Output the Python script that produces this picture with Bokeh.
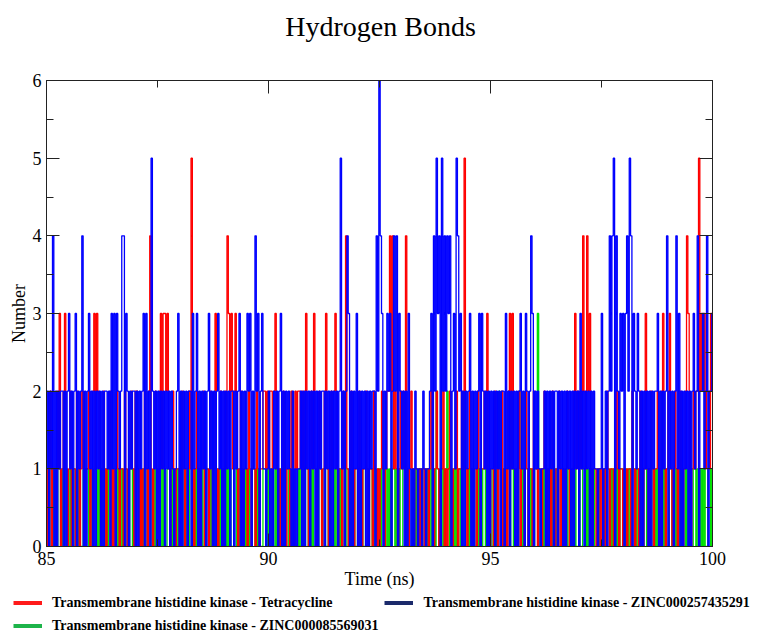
import numpy as np
from bokeh.plotting import figure
from bokeh.layouts import column
from bokeh.models import Range1d, LinearAxis, FixedTicker, Legend, LegendItem, Label
from bokeh.embed import file_html
from bokeh.resources import INLINE

TITLE = "Hydrogen Bonds"
X_LABEL = "Time (ns)"
Y_LABEL = "Number"
T_START = 85.0
T_STEP = 0.03
X_TICKS = [85, 90, 95, 100]
X_MINOR = [87.5, 92.5, 97.5]
Y_TICKS = [0, 1, 2, 3, 4, 5, 6]
Y_MINOR = [0.5, 1.5, 2.5, 3.5, 4.5, 5.5]
NAMES = ["Transmembrane histidine kinase - Tetracycline",
         "Transmembrane histidine kinase - ZINC000085569031",
         "Transmembrane histidine kinase - ZINC000257435291"]

RED = [
    1,0,1,2,0,1,1,0,2,1,3,0,1,2,3,1,0,1,2,0,1,1,0,2,1,
    0,1,2,1,0,1,1,2,0,1,2,3,1,3,2,1,0,1,2,1,0,1,1,2,0,
    1,0,1,2,1,0,1,1,0,2,1,0,1,1,2,1,0,2,2,1,0,1,0,1,2,
    1,0,2,4,1,0,1,2,1,0,2,3,1,3,3,2,3,1,0,1,2,1,0,1,1,
    0,1,2,1,0,1,1,2,1,5,1,0,1,2,1,0,1,1,2,0,1,1,0,2,1,
    0,1,3,1,0,1,2,1,0,2,1,4,3,2,3,1,2,3,1,0,1,2,1,0,1,
    1,0,2,1,0,1,1,0,2,1,0,1,1,2,2,1,2,1,2,2,1,2,3,1,0,
    1,0,1,2,1,0,1,1,0,2,1,0,2,1,2,2,1,2,1,2,3,1,0,1,2,
    1,3,1,0,1,2,1,0,1,2,3,1,0,1,2,1,2,3,1,0,1,1,0,2,1,
    4,1,0,1,2,1,0,1,1,0,2,1,0,1,1,2,1,0,1,1,0,2,1,0,1,
    0,1,2,1,0,1,2,2,4,2,4,1,2,1,0,1,2,1,2,1,4,1,0,1,2,
    1,0,1,1,0,1,0,1,1,0,1,1,0,1,2,1,0,1,2,1,0,1,1,2,0,
    1,0,1,2,1,0,1,1,2,0,1,1,2,1,5,1,0,1,2,1,0,1,1,0,2,
    1,0,1,1,2,1,3,1,0,1,1,0,2,1,0,1,1,2,0,1,1,0,2,3,1,
    3,1,0,1,1,2,0,1,1,0,2,1,0,1,1,0,2,1,1,0,1,1,0,1,2,
    1,0,1,1,0,2,1,0,1,1,2,0,1,1,0,1,2,1,0,1,1,2,3,1,2,
    1,2,1,4,2,1,4,2,3,1,0,1,1,0,1,1,0,1,1,0,1,2,1,0,1,
    1,0,1,2,1,0,1,1,0,1,1,0,1,1,0,2,1,0,1,1,0,2,1,0,1,
    3,1,0,1,2,1,0,1,1,2,1,0,2,3,1,0,1,2,3,1,0,1,2,1,0,
    1,2,1,0,1,2,4,3,1,0,1,2,1,2,2,5,2,3,2,3,1,2,2,1,3,
    2]

GREEN = [
    0,1,0,1,1,0,1,0,0,1,1,0,1,0,1,1,0,0,1,0,1,1,0,1,0,
    1,0,0,1,0,1,1,0,1,0,0,1,1,0,1,0,1,1,0,0,1,0,1,1,0,
    0,1,1,0,1,0,0,1,0,1,1,0,0,1,1,0,1,0,1,1,0,0,1,0,1,
    1,0,1,1,0,0,1,0,1,0,1,1,0,1,0,0,1,1,0,1,0,1,0,0,1,
    0,1,0,1,1,0,1,1,0,0,1,0,1,0,1,1,0,1,0,0,1,1,0,1,0,
    1,1,0,0,1,0,1,0,1,1,0,1,0,1,0,0,1,1,0,1,0,1,1,0,0,
    1,0,1,0,0,1,1,0,1,0,1,0,0,1,1,0,1,0,1,1,0,0,1,0,1,
    0,1,1,0,1,0,0,1,1,0,1,0,1,1,0,1,0,0,1,0,1,1,0,1,0,
    1,0,0,1,0,1,1,0,1,1,0,0,1,0,1,1,0,1,0,0,1,0,1,1,0,
    0,1,1,0,1,0,1,0,0,1,1,0,1,0,0,1,1,0,1,1,0,1,0,0,1,
    1,0,1,1,0,0,1,0,1,0,1,1,0,1,0,1,0,0,1,1,0,1,1,0,0,
    1,0,1,0,1,1,0,1,0,0,1,0,1,1,0,1,1,0,2,1,0,1,1,0,1,
    1,2,1,0,1,1,0,1,0,1,1,0,1,0,0,1,1,0,1,0,1,1,0,0,1,
    0,1,0,1,1,0,1,0,1,1,0,0,1,0,1,2,1,0,1,0,0,1,1,0,1,
    1,0,1,1,0,2,1,0,1,0,1,1,0,1,0,1,0,1,1,3,1,0,1,0,1,
    0,1,1,0,1,0,1,1,0,1,0,0,1,1,0,1,0,1,1,0,1,0,1,0,0,
    1,0,0,1,1,0,1,0,1,1,0,1,0,0,1,0,1,1,0,1,0,1,1,0,1,
    0,1,1,0,1,0,1,1,0,1,0,1,0,1,1,0,0,1,0,1,1,0,1,0,1,
    1,0,1,0,0,1,1,0,1,0,1,1,0,1,0,1,0,0,1,1,0,1,0,1,0,
    0,1,0,1,1,0,1,0,1,0,0,1,1,0,1,1,0,1,0,1,0,0,1,1,0,
    1]

BLUE = [
    1,2,0,2,1,4,0,2,0,2,1,2,2,0,2,0,2,3,1,2,0,2,3,0,2,
    1,2,4,0,2,0,2,3,1,2,0,2,0,2,1,2,0,2,0,2,2,1,2,0,3,
    1,3,0,3,2,1,2,4,4,0,3,2,0,2,1,2,2,0,2,0,2,1,2,3,0,
    3,1,2,0,5,2,1,2,0,2,0,2,1,2,0,2,1,2,0,2,1,0,1,2,3,
    0,2,0,2,1,2,0,2,2,0,3,1,2,3,0,2,0,2,1,2,0,2,3,1,2,
    0,2,0,2,3,1,2,0,2,0,2,1,2,0,2,2,0,2,1,2,3,0,2,0,2,
    1,3,2,3,0,2,1,4,2,3,0,2,3,1,1,0,1,2,0,1,0,2,1,2,0,
    2,3,0,2,0,2,1,2,1,0,2,0,1,0,1,1,2,0,2,0,2,1,2,0,2,
    1,2,0,2,0,2,1,2,2,0,2,1,2,0,2,0,2,1,2,0,2,5,1,2,0,
    2,4,3,0,2,0,2,1,3,0,2,0,2,1,2,0,2,0,2,1,2,2,0,4,2,
    6,4,3,0,2,1,3,2,3,0,2,4,2,4,0,3,2,1,2,0,2,0,3,1,0,
    1,0,2,1,0,1,1,0,2,1,0,1,1,2,3,0,4,2,5,3,4,0,5,2,4,
    2,4,3,4,0,2,3,1,5,4,2,3,0,2,0,2,1,2,3,0,2,0,2,1,2,
    3,0,3,2,1,2,0,2,0,2,1,2,0,2,1,2,0,2,2,0,3,1,2,0,2,
    1,2,0,2,0,2,3,1,2,0,3,2,0,2,4,3,0,2,1,2,1,0,1,1,2,
    0,2,0,2,1,2,0,2,2,0,2,1,2,0,2,0,2,1,2,0,2,0,2,1,2,
    0,3,1,2,0,2,1,2,0,2,0,2,1,1,0,1,1,3,0,1,2,0,2,4,2,
    4,5,0,4,2,1,3,2,3,0,3,4,2,5,4,0,3,2,1,3,2,0,2,0,2,
    1,2,0,2,0,2,1,2,2,3,0,2,0,2,1,2,4,0,2,1,2,0,2,4,1,
    3,0,2,0,2,1,2,0,2,0,2,3,1,2,4,0,2,2,3,1,2,4,0,2,2,
    3]

LINE_COLORS = {"red": "#ff0000", "green": "#00e000", "blue": "#0000ff"}
LEGEND_COLORS = ["#ff1a1a", "#1db44a", "#1b2a6b"]

time = T_START + T_STEP * np.arange(len(BLUE))

FONT = "Liberation Serif"
W = 766
TITLE_H = 69
MAIN_H = 525
LEG_H = 36


def bare_figure(height, xr, yr):
    f = figure(width=W, height=height, output_backend="svg", toolbar_location=None,
               x_range=Range1d(*xr), y_range=Range1d(*yr),
               x_axis_location=None, y_axis_location=None, min_border=0)
    f.grid.visible = False
    f.outline_line_color = None
    f.frame_align = False
    return f


# ---- title strip
tf = bare_figure(TITLE_H, (0, W), (0, TITLE_H))
tf.add_layout(Label(x=380, y=43, text=TITLE, text_font=FONT, text_font_size="28px",
                    text_align="center", text_baseline="alphabetic", text_color="black"))

# ---- main chart
p = figure(width=W, height=MAIN_H, output_backend="svg", toolbar_location=None,
           x_range=Range1d(85, 100), y_range=Range1d(0, 6),
           x_axis_location=None, y_axis_location=None,
           min_border_left=46, min_border_right=W - 712, min_border_top=11,
           min_border_bottom=48)
p.grid.visible = False
p.outline_line_color = "#222222"
p.frame_align = False


def make_axis(ticks, minor, labels=True, label=None):
    ax = LinearAxis(ticker=FixedTicker(ticks=ticks, minor_ticks=minor))
    ax.major_tick_in = 13
    ax.major_tick_out = 0
    ax.minor_tick_in = 7
    ax.minor_tick_out = 0
    ax.axis_line_color = "#222222"
    ax.major_tick_line_color = "#222222"
    ax.minor_tick_line_color = "#222222"
    if labels:
        ax.major_label_text_font = FONT
        ax.major_label_text_font_size = "18px"
        ax.major_label_text_color = "black"
        ax.major_label_standoff = 5
    else:
        ax.major_label_text_font_size = "1px"
        ax.major_label_text_color = None
        ax.major_label_standoff = 0
    if label:
        ax.axis_label = label
        ax.axis_label_text_font = FONT
        ax.axis_label_text_font_size = "18px"
        ax.axis_label_text_font_style = "normal"
        ax.axis_label_text_color = "black"
        ax.axis_label_standoff = 1
    return ax


p.add_layout(make_axis(X_TICKS, X_MINOR, True, X_LABEL), "below")
p.add_layout(make_axis(X_TICKS, X_MINOR, False), "above")
p.add_layout(make_axis(Y_TICKS, Y_MINOR, True, Y_LABEL), "left")
p.add_layout(make_axis(Y_TICKS, Y_MINOR, False), "right")

for vals, key in [(GREEN, "green"), (RED, "red"), (BLUE, "blue")]:
    p.step(time, vals, mode="center", line_color=LINE_COLORS[key], line_width=1.3)

# ---- legend strip
lf = bare_figure(LEG_H, (0, 1), (0, 1))
items = []
for name, col in zip(NAMES, LEGEND_COLORS):
    r = lf.line([np.nan], [np.nan], line_color=col, line_width=4)
    items.append(LegendItem(label=name, renderers=[r]))

legend = Legend(items=items, location=(13, -4),
                orientation="vertical", nrows=2,
                padding=0, margin=0, spacing=6, label_height=17, glyph_height=17,
                glyph_width=29, label_standoff=10,
                border_line_color=None, background_fill_alpha=0,
                label_text_font=FONT, label_text_font_style="bold",
                label_text_font_size="14px", label_text_color="black")
lf.add_layout(legend, "center")

page = column(tf, p, lf, spacing=0)
open("out.html", "w").write(file_html(page, INLINE))
